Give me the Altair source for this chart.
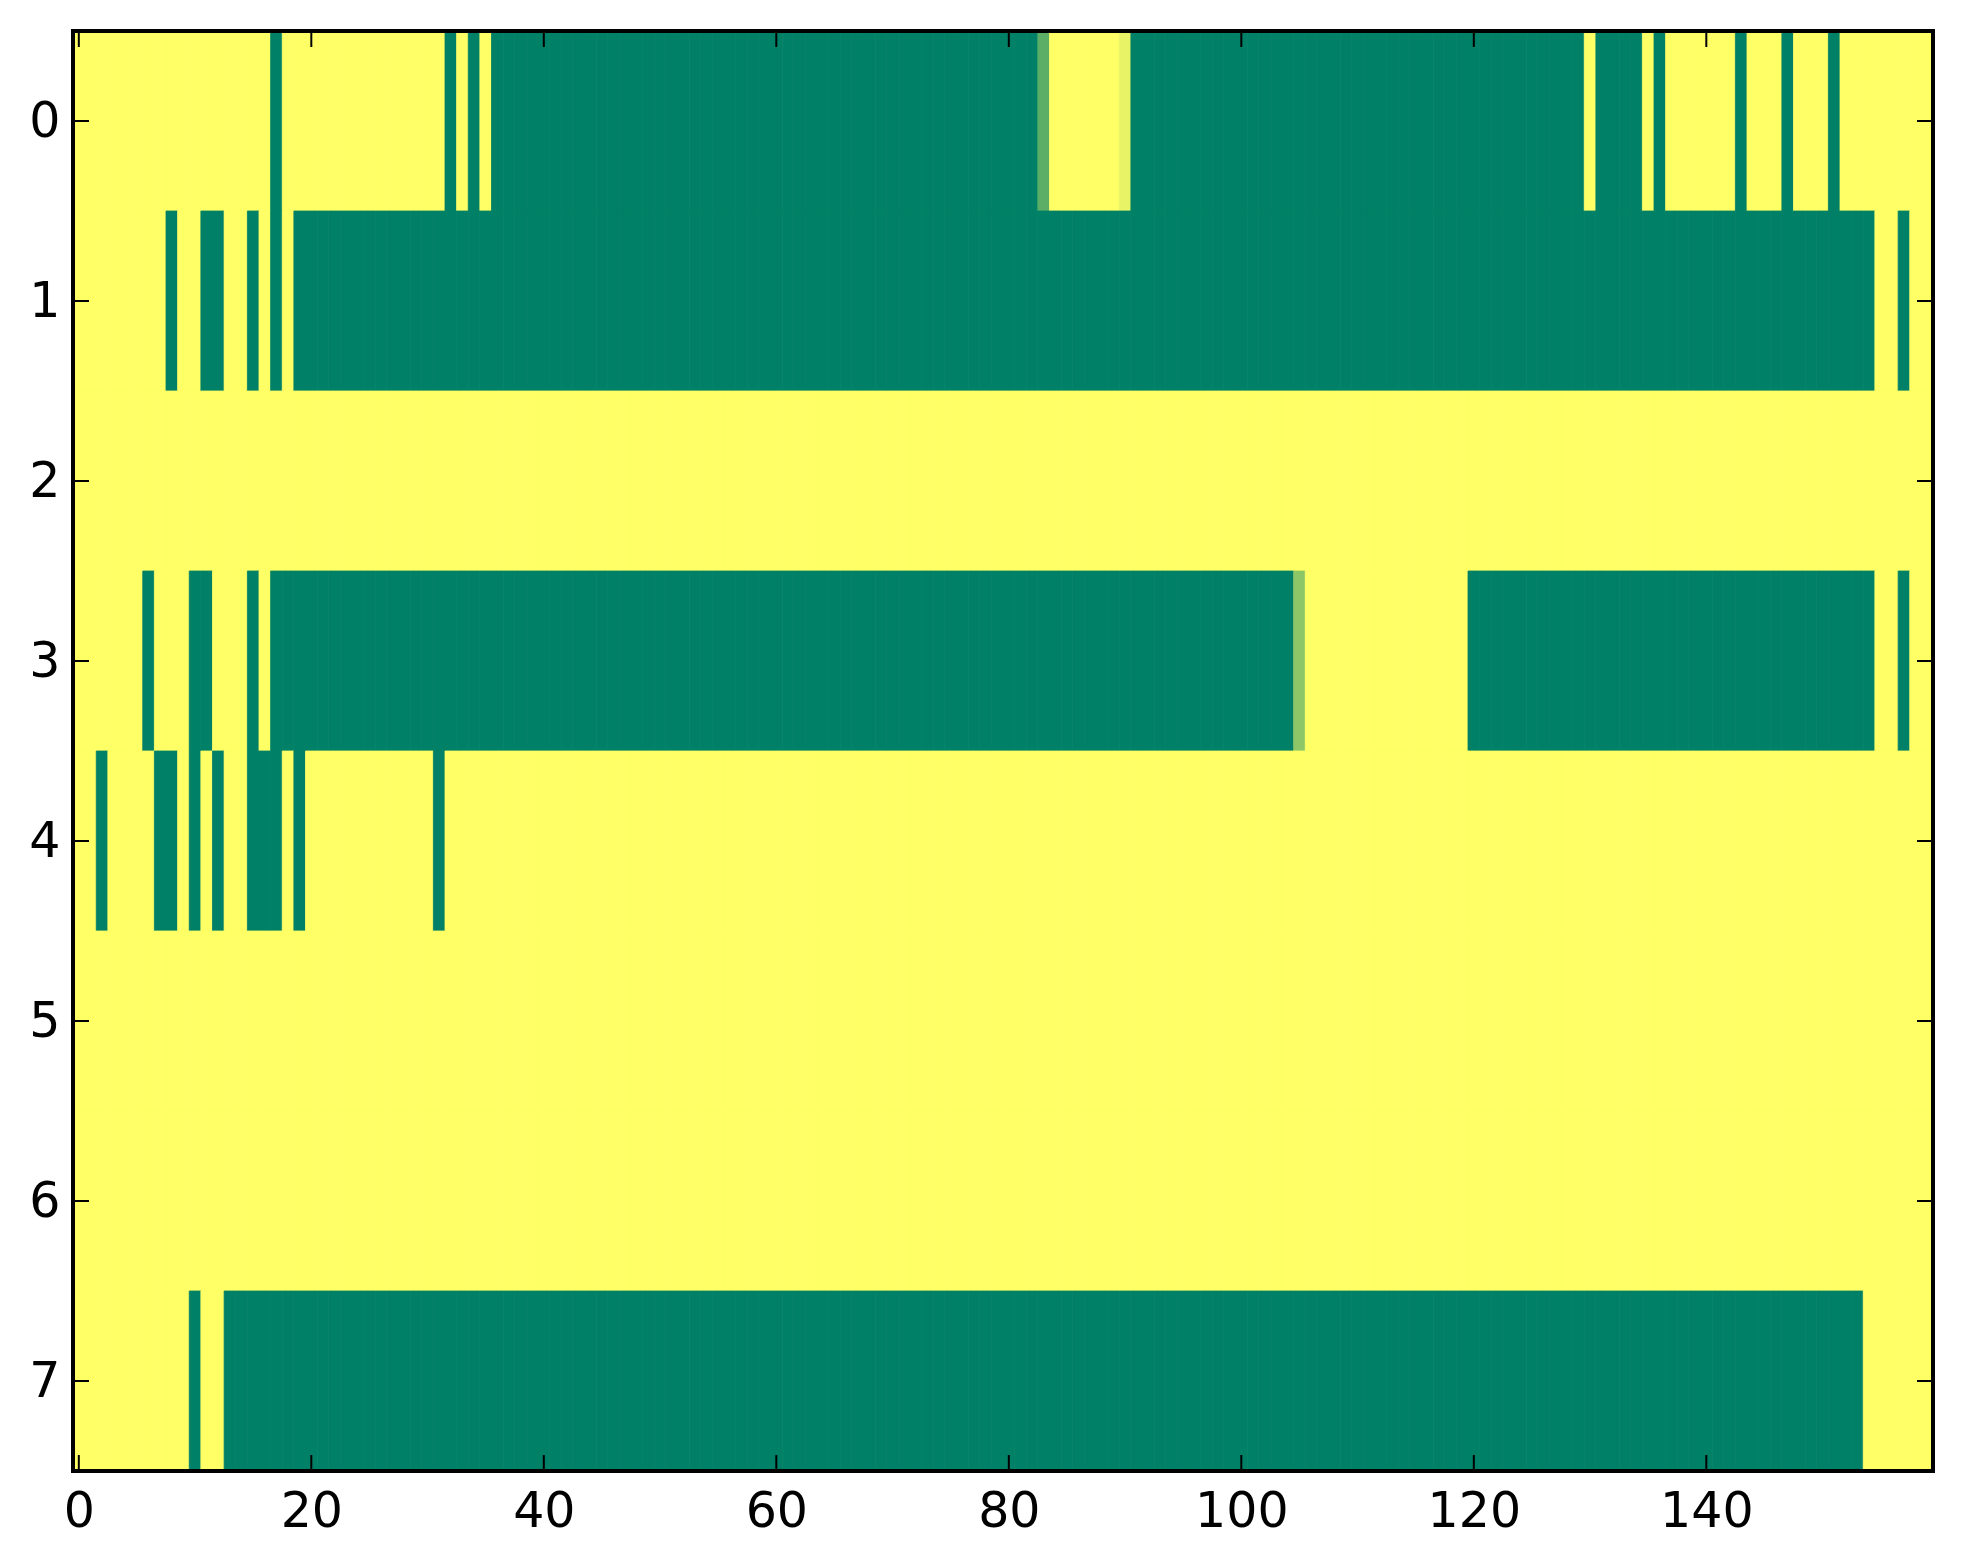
import pandas as pd
import altair as alt

# -----------------------------
# Data: one run list per row, (value, run length), read left to right
# 0 = yellow end of the colormap, 1 = green end
# -----------------------------
N_COLS = 160

ROW_0 = [(0, 17), (1, 1), (0, 14), (1, 1), (0, 1), (1, 1), (0, 1), (1, 47),
         (0.64, 1), (0, 6), (0.09, 1), (1, 39), (0, 1), (1, 4), (0, 1), (1, 1),
         (0, 6), (1, 1), (0, 3), (1, 1), (0, 3), (1, 1), (0, 8)]
ROW_1 = [(0, 8), (1, 1), (0, 2), (1, 2), (0, 2), (1, 1), (0, 1), (1, 1), (0, 1),
         (1, 136), (0, 2), (1, 1), (0, 2)]
ROW_2 = [(0, 160)]
ROW_3 = [(0, 6), (1, 1), (0, 3), (1, 2), (0, 3), (1, 1), (0, 1), (1, 88),
         (0.45, 1), (0, 14), (1, 35), (0, 2), (1, 1), (0, 2)]
ROW_4 = [(0, 2), (1, 1), (0, 4), (1, 2), (0, 1), (1, 1), (0, 1), (1, 1), (0, 2),
         (1, 3), (0, 1), (1, 1), (0, 11), (1, 1), (0, 128)]
ROW_5 = [(0, 160)]
ROW_6 = [(0, 160)]
ROW_7 = [(0, 10), (1, 1), (0, 2), (1, 141), (0, 6)]

ROWS = [ROW_0, ROW_1, ROW_2, ROW_3, ROW_4, ROW_5, ROW_6, ROW_7]

X_TICKS = [0, 20, 40, 60, 80, 100, 120, 140]
Y_TICKS = [0, 1, 2, 3, 4, 5, 6, 7]

# summer_r end colours
C_LOW = "#ffff66"
C_HIGH = "#008066"

# -----------------------------
# Layout
# -----------------------------
W, H = 1860, 1440
TICK = 16
FONT = "DejaVu Sans"
FS = 49

records = []
for r, runs in enumerate(ROWS):
    c = 0
    for v, n in runs:
        for _ in range(n):
            records.append({"row": r, "col": c, "v": v})
            c += 1
df = pd.DataFrame(records)

x_scale = alt.Scale(domain=[-0.5, N_COLS - 0.5], nice=False, zero=False)
y_scale = alt.Scale(domain=[-0.5, len(ROWS) - 0.5], nice=False, zero=False, reverse=True)
cmap = alt.Scale(domain=[0, 1], range=[C_LOW, C_HIGH], interpolate="rgb")

x_axis = alt.Axis(values=X_TICKS, format="d", ticks=False, domain=False, grid=False,
                  labelFont=FONT, labelFontSize=FS, labelColor="black",
                  labelPadding=16, labelFlush=False, labelOverlap=False)
y_axis = alt.Axis(values=Y_TICKS, format="d", ticks=False, domain=False, grid=False,
                  labelFont=FONT, labelFontSize=FS, labelColor="black",
                  labelPadding=13, labelOverlap=False, minExtent=60, maxExtent=60)

heat = (
    alt.Chart(df)
    .transform_calculate(
        x0="datum.col - 0.5", x1="datum.col + 0.5",
        y0="datum.row - 0.5", y1="datum.row + 0.5",
    )
    .mark_rect(strokeWidth=0.8)
    .encode(
        x=alt.X("x0:Q", scale=x_scale, axis=x_axis, title=None),
        x2="x1:Q",
        y=alt.Y("y0:Q", scale=y_scale, axis=y_axis, title=None),
        y2="y1:Q",
        color=alt.Color("v:Q", scale=cmap, legend=None),
        stroke=alt.Stroke("v:Q", scale=cmap, legend=None),
    )
)

# inside ticks on all four sides (classic matplotlib look)
xt = pd.DataFrame({"t": X_TICKS})
yt = pd.DataFrame({"t": Y_TICKS})

x_enc = alt.X("t:Q", scale=x_scale, axis=x_axis, title=None)
y_enc = alt.Y("t:Q", scale=y_scale, axis=y_axis, title=None)

top_ticks = alt.Chart(xt).mark_rule(color="black", strokeWidth=2).encode(
    x=x_enc, y=alt.value(0), y2=alt.value(TICK))
bottom_ticks = alt.Chart(xt).mark_rule(color="black", strokeWidth=2).encode(
    x=x_enc, y=alt.value(H - TICK), y2=alt.value(H))
left_ticks = alt.Chart(yt).mark_rule(color="black", strokeWidth=2).encode(
    y=y_enc, x=alt.value(0), x2=alt.value(TICK))
right_ticks = alt.Chart(yt).mark_rule(color="black", strokeWidth=2).encode(
    y=y_enc, x=alt.value(W - TICK), x2=alt.value(W))

# axes frame drawn on top of the cells
frame = alt.Chart(pd.DataFrame({"f": [0]})).mark_rect(
    fillOpacity=0, stroke="black", strokeWidth=4
).encode(x=alt.value(0), x2=alt.value(W), y=alt.value(0), y2=alt.value(H))

chart = (
    alt.layer(heat, top_ticks, bottom_ticks, left_ticks, right_ticks, frame)
    .properties(width=W, height=H,
                padding={"left": 5, "top": 21, "right": 10, "bottom": 5})
    .configure(background="white")
    .configure_view(strokeWidth=0)
)

chart.save("out.html", embed_options={"renderer": "svg", "actions": False})
